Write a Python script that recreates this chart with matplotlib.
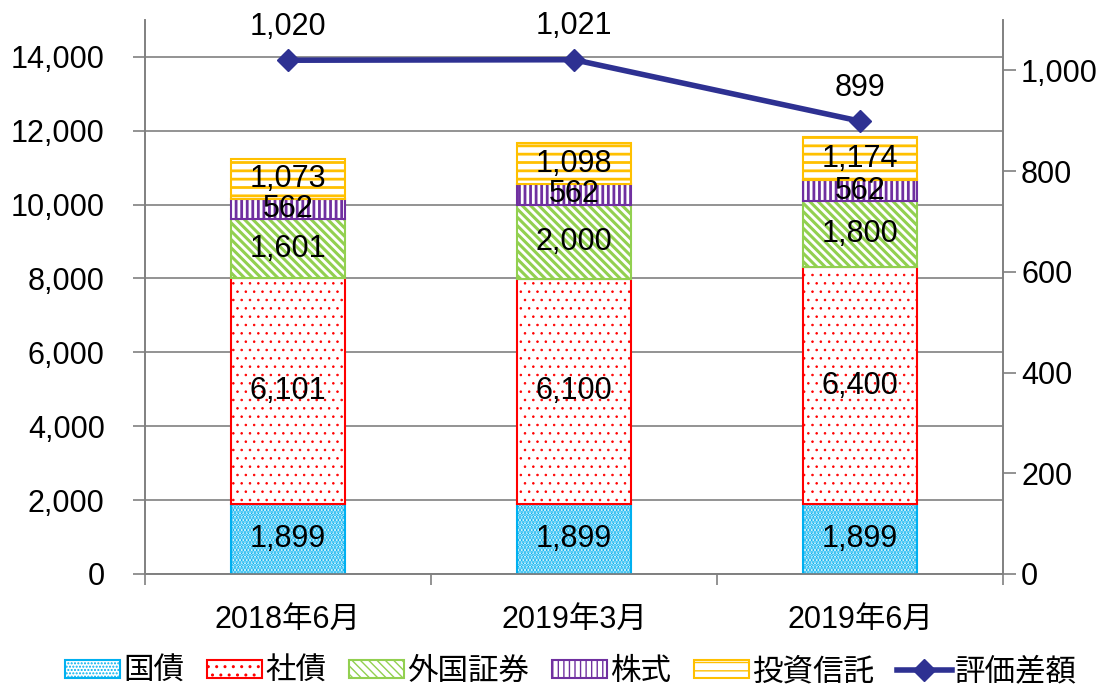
import numpy as np
import matplotlib.pyplot as plt

plt.rcParams['font.family'] = ['Liberation Sans', 'Noto Sans CJK JP']

## Data

periods = ["2018年6月", "2019年3月", "2019年6月"]
kokusai = [1899, 1899, 1899]
shasai = [6101, 6100, 6400]
gaikoku = [1601, 2000, 1800]
kabushiki = [562, 562, 562]
toshin = [1073, 1098, 1174]
hyoka = [1020, 1021, 899]

series = [
    ("国債", kokusai, "#00B0F0", ".....", 2.0),
    ("社債", shasai, "#FF0000", "..", 0.6),
    ("外国証券", gaikoku, "#92D050", "\\\\\\\\", 2.2),
    ("株式", kabushiki, "#7030A0", "|||", 2.0),
    ("投資信託", toshin, "#FFC000", "--", 2.0),
]

FS = 22

## Figure

fig = plt.figure(figsize=(11.15, 6.87), dpi=100)
ax = fig.add_axes([0.130, 0.1645, 0.7696, 0.8065])
ax2 = ax.twinx()

x = np.arange(len(periods))
bottom = np.zeros(len(periods))
handles = []
for name, vals, col, hatch, hlw in series:
    with plt.rc_context({'hatch.linewidth': hlw}):
        b = ax.bar(x, vals, 0.4, bottom=bottom, color="white", edgecolor=col,
                   hatch=hatch, linewidth=1.5, label=name, zorder=3)
    handles.append(b)
    for xi, bi, v in zip(x, bottom, vals):
        ax.text(xi, bi + v / 2, f"{v:,}", ha="center", va="center",
                fontsize=FS, zorder=5)
    bottom += np.array(vals)

ax.set_xlim(-0.5, 2.5)
ax.set_ylim(0, 15000)
ax.set_yticks(range(0, 14001, 2000))
ax.set_yticklabels([f"{v:,}" for v in range(0, 14001, 2000)], fontsize=FS)
ax.set_xticks(x)
ax.set_xticklabels(periods, fontsize=FS)
ax.yaxis.grid(True, color="#808080", linewidth=1.2, zorder=0)
ax.set_axisbelow(True)
ax.tick_params(axis="x", length=0, pad=22)
ax.tick_params(axis="y", length=9, width=1.2, color="#808080", pad=20)
ax.spines["top"].set_visible(False)
for s in ["left", "bottom", "right"]:
    ax.spines[s].set_color("#808080")
    ax.spines[s].set_linewidth(1.2)
# small tick marks between categories on x axis
ax.set_xticks([-0.5, 0.5, 1.5, 2.5], minor=True)
ax.tick_params(axis="x", which="minor", length=8, width=1.2, color="#808080")

ln, = ax2.plot(x, hyoka, color="#2E3192", linewidth=4, marker="D",
               markersize=11, label="評価差額", zorder=6)
for xi, v in zip(x, hyoka):
    ax2.annotate(f"{v:,}", (xi, v), xytext=(0, 24), textcoords="offset points",
                 ha="center", va="center", fontsize=FS)
ax2.set_ylim(0, 1100)
ax2.set_yticks(range(0, 1001, 200))
ax2.set_yticklabels([f"{v:,}" for v in range(0, 1001, 200)], fontsize=FS)
ax2.tick_params(axis="y", length=9, width=1.2, color="#808080", pad=4)
ax2.spines["top"].set_visible(False)
for s in ["left", "bottom", "right"]:
    ax2.spines[s].set_color("#808080")
    ax2.spines[s].set_linewidth(1.2)

fig.legend(handles + [ln], [h.get_label() for h in handles] + ["評価差額"],
           loc="lower center", bbox_to_anchor=(0.512, -0.04), ncol=6,
           frameon=False, fontsize=FS, handlelength=1.8, handleheight=0.55,
           handletextpad=0.1, columnspacing=0.75)

fig.savefig("out.png", dpi=100)
